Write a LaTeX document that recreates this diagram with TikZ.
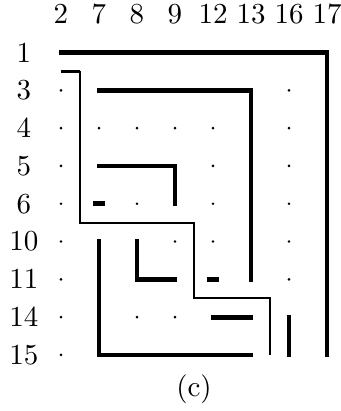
\documentclass[tikz,border=0pt]{standalone}
\usepackage{tikz}
\usetikzlibrary{calc}
\begin{document}
\begin{tikzpicture}[
  x=13.1pt,y=-13.03pt,
  dot/.style={circle,fill,inner sep=0pt,minimum size=1pt},
  wall/.style={line width=1.65pt,line cap=rect},
  route/.style={line width=0.69pt},
]
\useasboundingbox (-1.605,-1.389) rectangle (7.342,9.484);
\foreach \c [count=\i from 0] in {2,7,8,9,12,13,16,17} {
  \node (c\c) at (\i,-1.02) {\c};
  \foreach \r [count=\j from 0] in {1,3,4,5,6,10,11,14,15}
    \node[dot] (n\c-\r) at (\i,\j) {};
}
\foreach \r [count=\j from 0] in {1,3,4,5,6,10,11,14,15}
  \node (r\r) at (-0.974,\j) {\r};
\node (cap) at (3.5,8.9) {(c)};

\draw[wall] (n2-1.center) -- (n17-1.center) -- (n17-15.center);
\draw[wall] (n7-3.center) -- (n13-3.center) -- (n13-11.center);
\draw[wall] (n7-5.center) -- (n9-5.center) -- (n9-6.center);
\draw[wall] ([xshift=-1.4pt]n7-6.center) -- ([xshift=1.4pt]n7-6.center);
\draw[wall] (n7-10.center) -- (n7-15.center) -- (n13-15.center);
\draw[wall] (n8-10.center) -- (n8-11.center) -- (n9-11.center);
\draw[wall] ([xshift=-1.4pt]n12-11.center) -- ([xshift=1.4pt]n12-11.center);
\draw[wall] (n12-14.center) -- (n13-14.center);
\draw[wall] (n16-14.center) -- (n16-15.center);

\coordinate (s0) at ($(n2-1)!.5!(n2-3)$);
\coordinate (s1) at ($(n2-1)!.5!(n7-3)$);
\coordinate (s2) at ($(n2-6)!.5!(n7-10)$);
\coordinate (s3) at ($(n9-6)!.5!(n12-10)$);
\coordinate (s4) at ($(n9-11)!.5!(n12-14)$);
\coordinate (s5) at ($(n13-11)!.5!(n16-14)$);
\coordinate (s6) at ($(n13-15)!.5!(n16-15)$);
\draw[line width=0.93pt] (s0) -- (s1);
\draw[route] (s1) -- (s2) -- (s3) -- (s4) -- (s5) -- (s6);
\end{tikzpicture}
\end{document}
